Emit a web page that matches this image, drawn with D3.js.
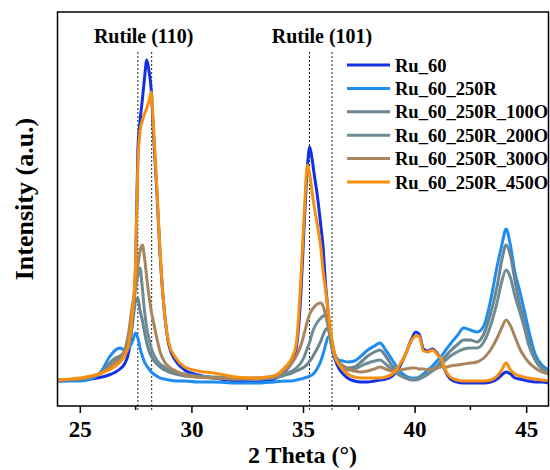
<!DOCTYPE html>
<html><head><meta charset="utf-8">
<script src="https://cdn.jsdelivr.net/npm/d3@7"></script>
<style>body{margin:0;background:#fff}</style>
</head><body>
<svg id="chart" width="550" height="470"></svg>
<script>
// 2 Theta grid (degrees)
const twoTheta = [24,25,25.5,26,26.3,26.6,26.8,27.0,27.2,27.35,27.5,27.6,27.7,27.8,27.9,28.0,28.1,28.2,28.3,28.45,28.6,28.8,29.0,29.3,29.7,30.3,31,32,33,33.7,34.2,34.5,34.7,34.9,35.05,35.2,35.3,35.4,35.5,35.65,35.8,35.9,36.0,36.1,36.2,36.3,36.45,36.6,36.8,37.0,37.3,37.6,37.9,38.2,38.45,38.7,39.0,39.3,39.6,39.85,40.05,40.2,40.4,40.6,40.8,41.0,41.2,41.4,41.6,41.9,42.2,42.5,42.8,43.1,43.4,43.7,43.9,44.1,44.3,44.5,44.7,44.9,45.1,45.4,45.7,46.0];

// Intensities (a.u.)
const ru60 = [25,26,27,29,31,34,37,42,55,85,140,255,285,306,328,346,335,316,273,215,150,92,60,45,36,31,28,25,24,27,35,44,58,110,180,240,259,248,232,209,180,159,125,100,75,58,46,38,32,28,25,24,24,25,26,27,30,38,52,66,74,72,57,55,57,53,46,34,27,24,23,23,23,23,24,27,31,34,32,28,27,26,25,24,24,23];
const ru60_250R = [25,25,27,36,48,56,58,56,58,64,73,68,58,50,44,40,37,34,32,30,28,27,26,25,25,24,24,23,23,24,25,25,26,27,28,29,30,31,33,38,45,52,60,68,70,60,50,46,45,44,45,50,56,60,63,56,46,36,30,28,28,29,32,36,40,45,50,56,62,70,78,76,74,80,105,140,160,177,160,133,116,97,77,52,41,36];
const ru60_250R_100O = [26,27,29,34,42,48,50,54,64,80,105,108,95,86,74,63,55,50,46,42,39,36,34,32,30,29,28,27,27,28,31,33,35,37,39,42,45,48,52,58,65,71,76,78,72,60,50,44,40,38,39,44,50,54,56,50,40,32,28,26,26,27,29,32,36,40,45,50,55,61,66,66,64,72,92,120,145,161,150,125,103,85,66,47,38,34];
const ru60_250R_200O = [26,27,29,34,40,46,48,53,66,90,118,130,138,118,95,78,67,58,52,46,42,39,36,34,32,30,29,28,28,29,32,35,38,43,49,58,64,72,78,84,88,90,91,82,70,58,48,42,38,36,37,40,43,45,46,42,36,31,28,27,27,28,30,32,35,38,42,46,50,54,57,58,58,64,80,104,124,136,128,110,95,80,62,46,37,34];
const ru60_250R_300O = [26,27,29,33,38,44,47,55,75,100,120,140,155,161,148,128,110,95,84,68,54,44,39,35,31,29,28,27,28,30,36,43,50,60,72,85,92,96,99,102,103,100,92,84,76,64,49,43,40,37,35,34,35,37,39,37,35,36,37,38,38,37,37,36,37,38,39,39,40,41,42,43,44,48,56,68,78,86,80,69,58,50,44,38,34,32];
const ru60_250R_450O = [26,28,30,33,36,40,44,50,62,92,145,240,275,285,292,298,305,314,280,219,153,92,62,48,39,35,33,29,28,30,39,48,62,125,190,241,232,215,200,180,158,135,118,100,82,66,49,42,36,32,29,28,28,28,28,29,32,40,52,65,70,70,55,54,56,52,47,35,29,26,25,25,25,25,26,30,36,43,36,32,30,29,28,27,26,25];

const seriesNames = ["Ru_60","Ru_60_250R","Ru_60_250R_100O","Ru_60_250R_200O","Ru_60_250R_300O","Ru_60_250R_450O"];
const seriesValues = [ru60, ru60_250R, ru60_250R_100O, ru60_250R_200O, ru60_250R_300O, ru60_250R_450O];
const seriesColors = ["#1430e4","#1f8cf0","#6a8590","#6f8b94","#a9855f","#f7900e"];

const xTickValues = [25,30,35,40,45];
const xMinorTicks = [27.5,32.5,37.5,42.5];
const rutileLines = [27.6,28.22,35.29,36.3];
const rutileLabels = ["Rutile (110)","Rutile (101)"];
const rutileLabelPos = [27.86,35.85];

const m={left:57.5,right:548.5,top:12,bottom:406};
const svg=d3.select("#chart");
const FONT='"Liberation Serif","Times New Roman",serif';

const x=d3.scaleLinear().domain([24,46]).range([m.left,m.right]);
const y=d3.scaleLinear().domain([0,394]).range([m.bottom,m.top]);

svg.append("defs").append("clipPath").attr("id","clip")
  .append("rect").attr("x",m.left).attr("y",m.top).attr("width",m.right-m.left).attr("height",m.bottom-m.top);

// dashed reference lines
svg.append("g").selectAll("line").data(rutileLines).join("line")
  .attr("x1",d=>x(d)).attr("x2",d=>x(d)).attr("y1",52).attr("y2",412)
  .attr("stroke","#222").attr("stroke-width",1).attr("stroke-dasharray","2,2");

// curves
const line=d3.line().x((d,i)=>x(twoTheta[i])).y(d=>y(d)).curve(d3.curveMonotoneX);
svg.append("g").attr("clip-path","url(#clip)").selectAll("path").data(seriesValues).join("path")
  .attr("d",d=>line(d)).attr("fill","none")
  .attr("stroke",(d,i)=>seriesColors[i]).attr("stroke-width",3).attr("stroke-linejoin","round");

// frame
svg.append("rect").attr("x",m.left).attr("y",m.top).attr("width",m.right-m.left).attr("height",m.bottom-m.top)
  .attr("fill","none").attr("stroke","#000").attr("stroke-width",1.5);

// x axis
const ax=svg.append("g").attr("transform",`translate(0,${m.bottom})`)
  .call(d3.axisBottom(x).tickValues(xTickValues).tickSize(7).tickFormat(d3.format("d")));
ax.select(".domain").remove();
ax.selectAll(".tick line").attr("stroke","#000").attr("stroke-width",1.5);
ax.selectAll(".tick text").attr("font-family",FONT).attr("font-weight","bold").attr("font-size",23)
  .attr("fill","#000").attr("y",31).attr("dy",0);
svg.append("g").selectAll("line").data(xMinorTicks).join("line")
  .attr("x1",d=>x(d)).attr("x2",d=>x(d)).attr("y1",m.bottom).attr("y2",m.bottom+4)
  .attr("stroke","#000").attr("stroke-width",1.5);

// axis titles
svg.append("text").attr("x",302.5).attr("y",463).attr("text-anchor","middle")
  .attr("font-family",FONT).attr("font-weight","bold").attr("font-size",24).text("2 Theta (°)");
svg.append("text").attr("transform","translate(33,199) rotate(-90)").attr("text-anchor","middle")
  .attr("font-family",FONT).attr("font-weight","bold").attr("font-size",26).text("Intensity (a.u.)");

// rutile labels
svg.append("g").selectAll("text").data(rutileLabels).join("text")
  .attr("x",(d,i)=>x(rutileLabelPos[i])).attr("y",43).attr("text-anchor","middle")
  .attr("font-family",FONT).attr("font-weight","bold").attr("font-size",20).text(d=>d);

// legend
const lg=svg.append("g");
seriesNames.forEach((n,i)=>{
  const cy=65+i*23.4;
  lg.append("line").attr("x1",347).attr("x2",390).attr("y1",cy).attr("y2",cy)
    .attr("stroke",seriesColors[i]).attr("stroke-width",3);
  lg.append("text").attr("x",395).attr("y",cy+6.5).attr("font-family",FONT).attr("font-weight","bold")
    .attr("font-size",18.5).text(n);
});
</script>
</body></html>
